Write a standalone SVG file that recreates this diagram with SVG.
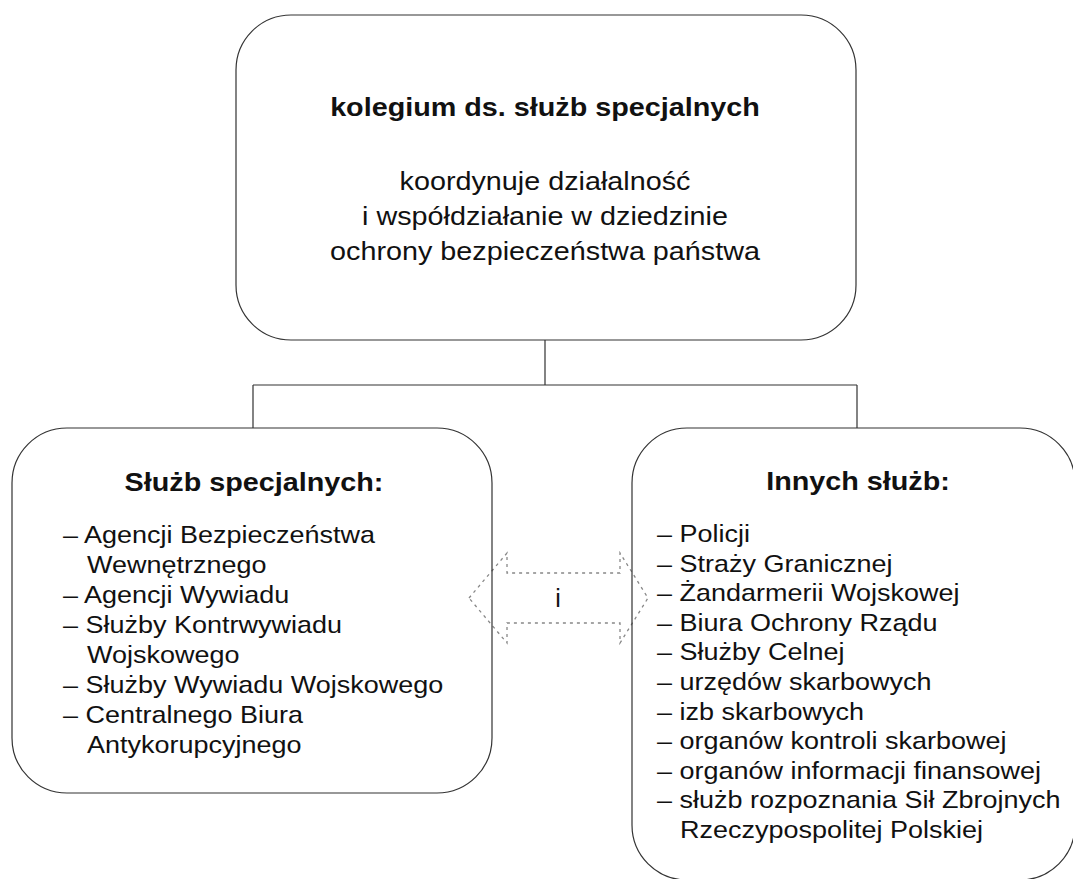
<svg xmlns="http://www.w3.org/2000/svg" width="1073" height="879" viewBox="0 0 1073 879">
<style>
.box{fill:none;stroke:#333;stroke-width:1.2}
.con{fill:none;stroke:#333;stroke-width:1.2}
.arr{fill:none;stroke:#888;stroke-width:1.3;stroke-dasharray:3 4}
text{font-family:"Liberation Sans",Arial,sans-serif;font-size:25px;fill:#111}
.l{font-size:24px}
.b{font-weight:bold}
.c{text-anchor:middle}
</style>
<rect width="1073" height="879" fill="#fff"/>
<g id="connectors">
<path class="con" d="M545 340V385M253 385H857M253 385V428M857 385V428"/>
<path id="double-arrow" class="arr" d="M469 598L507 553V573H620V553L648 598L620 643V623H507V643Z"/>
<text class="c" x="558" y="607">i</text>
</g>
<g id="kolegium">
<rect class="box" x="236" y="15" width="620" height="325" rx="55"/>
<text class="b c" transform="matrix(1.15 0 0 1 545 116)">kolegium ds. służb specjalnych</text>
<text class="c" transform="matrix(1.15 0 0 1 545 190)">koordynuje działalność</text>
<text class="c" transform="matrix(1.15 0 0 1 545 225)">i współdziałanie w dziedzinie</text>
<text class="c" transform="matrix(1.15 0 0 1 545 260)">ochrony bezpieczeństwa państwa</text>
</g>
<g id="sluzby-specjalne">
<rect class="box" x="12" y="428" width="480" height="365" rx="55"/>
<text class="b c" transform="matrix(1.15 0 0 1 254 491)">Służb specjalnych:</text>
<g class="l" transform="matrix(1.125 0 0 1 63 0)">
<text class="l" x="0" y="543">– Agencji Bezpieczeństwa</text>
<text class="l" x="21.3" y="573">Wewnętrznego</text>
<text class="l" x="0" y="603">– Agencji Wywiadu</text>
<text class="l" x="0" y="633">– Służby Kontrwywiadu</text>
<text class="l" x="21.3" y="663">Wojskowego</text>
<text class="l" x="0" y="693">– Służby Wywiadu Wojskowego</text>
<text class="l" x="0" y="723">– Centralnego Biura</text>
<text class="l" x="21.3" y="753">Antykorupcyjnego</text>
</g>
</g>
<g id="inne-sluzby">
<rect class="box" x="632" y="428" width="443" height="452" rx="55"/>
<text class="b c" transform="matrix(1.15 0 0 1 858 490)">Innych służb:</text>
<g transform="matrix(1.125 0 0 1 657 0)">
<text class="l" x="0" y="542">– Policji</text>
<text class="l" x="0" y="571.6">– Straży Granicznej</text>
<text class="l" x="0" y="601.2">– Żandarmerii Wojskowej</text>
<text class="l" x="0" y="630.8">– Biura Ochrony Rządu</text>
<text class="l" x="0" y="660.4">– Służby Celnej</text>
<text class="l" x="0" y="690">– urzędów skarbowych</text>
<text class="l" x="0" y="719.6">– izb skarbowych</text>
<text class="l" x="0" y="749.2">– organów kontroli skarbowej</text>
<text class="l" x="0" y="778.8">– organów informacji finansowej</text>
<text class="l" x="0" y="808.4">– służb rozpoznania Sił Zbrojnych</text>
<text class="l" x="20.4" y="838">Rzeczypospolitej Polskiej</text>
</g>
</g>
</svg>
